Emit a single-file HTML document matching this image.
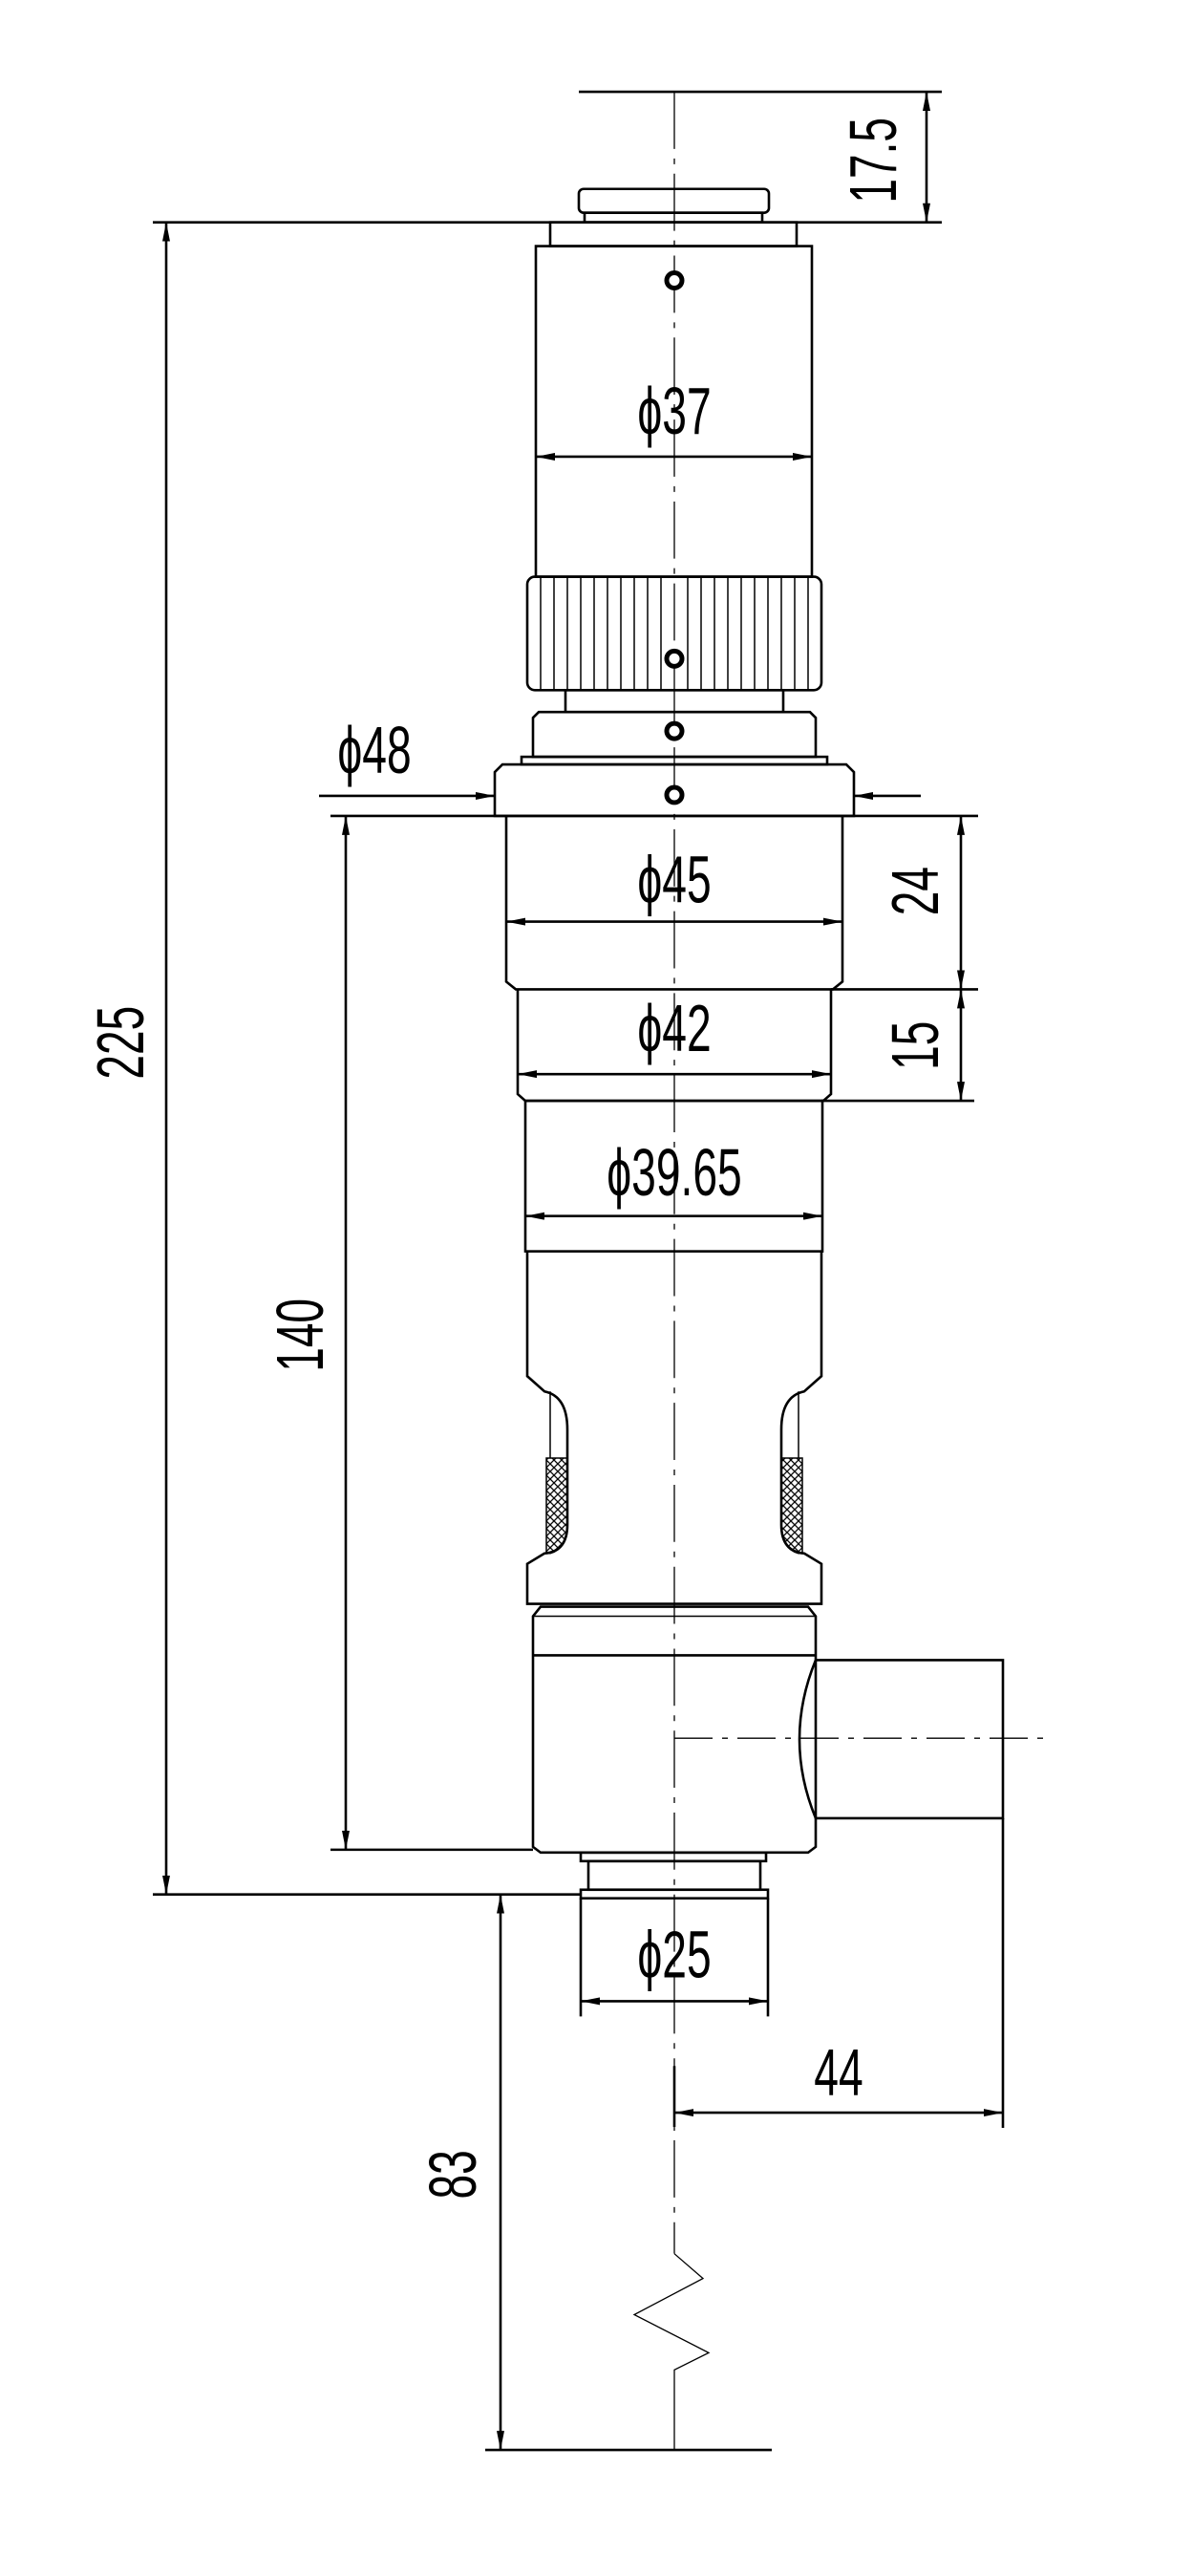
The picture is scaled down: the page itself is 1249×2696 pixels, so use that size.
<!DOCTYPE html>
<html><head><meta charset="utf-8"><style>
html,body{margin:0;padding:0;background:#fff;}
svg{display:block;}
text{font-family:"Liberation Sans",sans-serif;font-size:70px;fill:#000;}
</style></head><body>
<svg width="1249" height="2696" viewBox="0 0 1249 2696" xmlns="http://www.w3.org/2000/svg">
<defs>
<marker id="a" viewBox="0 0 20 8" refX="20" refY="4" markerWidth="20" markerHeight="8" markerUnits="userSpaceOnUse" orient="auto-start-reverse"><path d="M0,0 L20,4 L0,8 z" fill="#000"/></marker>
<pattern id="x" width="8" height="8" patternUnits="userSpaceOnUse"><path d="M0,0 L8,8 M8,0 L0,8" stroke="#000" stroke-width="1.3"/></pattern>
</defs>
<g transform="translate(0,0.3) scale(1,0.9972)">
<g stroke="#000" fill="none" stroke-width="2.6">
<line x1="706" y1="96" x2="706" y2="2365" stroke-width="1.3" stroke-dasharray="60,10,6,10"/>
<polyline points="706,2365 736,2391 664,2429 742,2469 706,2487 706,2571" stroke-width="1.3"/>
<line x1="606" y1="96" x2="986" y2="96"/>
<line x1="160" y1="233" x2="986" y2="233"/>
<line x1="970" y1="96" x2="970" y2="233" marker-start="url(#a)" marker-end="url(#a)"/>
<rect x="606" y="198" width="199" height="25" rx="5"/>
<rect x="612" y="223" width="186" height="10"/>
<rect x="576" y="233" width="258" height="25"/>
<rect x="561" y="258" width="289" height="347"/>
<line x1="561" y1="479" x2="850" y2="479" marker-start="url(#a)" marker-end="url(#a)"/>
<rect x="552" y="605" width="308" height="119" rx="8"/>
<path d="M566,605V724M580,605V724M594,605V724M608,605V724M622,605V724M636,605V724M650,605V724M664,605V724M678,605V724M692,605V724M720,605V724M734,605V724M748,605V724M762,605V724M776,605V724M790,605V724M804,605V724M818,605V724M832,605V724M846,605V724" stroke-width="1.5"/>
<rect x="592" y="724" width="228" height="23"/>
<path d="M558,794 V753 L564,747 H848 L854,753 V794 Z"/>
<rect x="546" y="794" width="320" height="8"/>
<path d="M518,856 V810 L526,802 H886 L894,810 V856 Z"/>
<line x1="334" y1="835" x2="518" y2="835" marker-end="url(#a)"/>
<line x1="964" y1="835" x2="894" y2="835" marker-end="url(#a)"/>
<line x1="346" y1="856" x2="1024" y2="856"/>
<path d="M530,856 V1030 L540,1038 H872 L882,1030 V856"/>
<line x1="530" y1="967" x2="882" y2="967" marker-start="url(#a)" marker-end="url(#a)"/>
<line x1="870" y1="1038" x2="1024" y2="1038"/>
<line x1="1006" y1="856" x2="1006" y2="1038" marker-start="url(#a)" marker-end="url(#a)"/>
<path d="M542,1038 V1148 L550,1155 H862 L870,1148 V1038"/>
<line x1="542" y1="1127" x2="870" y2="1127" marker-start="url(#a)" marker-end="url(#a)"/>
<line x1="860" y1="1155" x2="1020" y2="1155"/>
<line x1="1006" y1="1038" x2="1006" y2="1155" marker-start="url(#a)" marker-end="url(#a)"/>
<rect x="550" y="1155" width="311" height="158"/>
<line x1="550" y1="1276" x2="861" y2="1276" marker-start="url(#a)" marker-end="url(#a)"/>
<path d="M552,1313 V1444 L570,1460 Q594,1465 594,1500 V1600 Q594,1628 570,1630 L552,1641 V1683 H860 V1641 L842,1630 Q818,1628 818,1600 V1500 Q818,1465 842,1460 L860,1444 V1313"/>
<line x1="576" y1="1460" x2="576" y2="1530" stroke-width="1.5"/>
<line x1="836" y1="1460" x2="836" y2="1530" stroke-width="1.5"/>
<path d="M572,1530 H594 V1600 Q594,1625 576,1630 L572,1630 Z" fill="url(#x)" stroke-width="1.5"/>
<path d="M840,1530 H818 V1600 Q818,1625 836,1630 L840,1630 Z" fill="url(#x)" stroke-width="1.5"/>
<path d="M558,1938 V1696 L566,1686 H846 L854,1696 V1938 L846,1944 H566 Z"/>
<line x1="558" y1="1696" x2="854" y2="1696" stroke-width="1.5"/>
<line x1="558" y1="1737" x2="854" y2="1737"/>
<path d="M854,1742 H1050 V1908 H854 Q820,1825 854,1742"/>
<line x1="706" y1="1824" x2="1094" y2="1824" stroke-width="1.3" stroke-dasharray="40,10,6,10"/>
<line x1="1050" y1="1908" x2="1050" y2="2233"/>
<line x1="706" y1="2168" x2="706" y2="2232"/>
<line x1="706" y1="2217" x2="1050" y2="2217" marker-start="url(#a)" marker-end="url(#a)"/>
<rect x="608" y="1944" width="194" height="9"/>
<rect x="616" y="1953" width="180" height="30"/>
<rect x="608" y="1983" width="196" height="9"/>
<line x1="346" y1="1941" x2="558" y2="1941"/>
<line x1="160" y1="1988" x2="608" y2="1988"/>
<line x1="608" y1="1992" x2="608" y2="2116"/>
<line x1="804" y1="1992" x2="804" y2="2116"/>
<line x1="608" y1="2100" x2="804" y2="2100" marker-start="url(#a)" marker-end="url(#a)"/>
<line x1="508" y1="2571" x2="808" y2="2571"/>
<line x1="174" y1="233" x2="174" y2="1988" marker-start="url(#a)" marker-end="url(#a)"/>
<line x1="362" y1="856" x2="362" y2="1941" marker-start="url(#a)" marker-end="url(#a)"/>
<line x1="524" y1="1988" x2="524" y2="2571" marker-start="url(#a)" marker-end="url(#a)"/>
</g>
<g fill="#fff" stroke="#000" stroke-width="5">
<circle cx="706" cy="294" r="8"/><circle cx="706" cy="691" r="8"/><circle cx="706" cy="767" r="8"/><circle cx="706" cy="834" r="8"/>
</g>
<g text-anchor="middle">
<text transform="translate(706,455) scale(0.66,1)">ϕ37</text>
<text transform="translate(392,811) scale(0.66,1)">ϕ48</text>
<text transform="translate(706,947) scale(0.66,1)">ϕ45</text>
<text transform="translate(706,1103) scale(0.66,1)">ϕ42</text>
<text transform="translate(706,1254) scale(0.66,1)">ϕ39.65</text>
<text transform="translate(706,2075) scale(0.66,1)">ϕ25</text>
<text transform="translate(878,2199) scale(0.66,1)">44</text>
<text transform="translate(938,168) rotate(-90) scale(0.66,1)">17.5</text>
<text transform="translate(982,935) rotate(-90) scale(0.66,1)">24</text>
<text transform="translate(982,1097) rotate(-90) scale(0.66,1)">15</text>
<text transform="translate(150,1094) rotate(-90) scale(0.66,1)">225</text>
<text transform="translate(338,1401) rotate(-90) scale(0.66,1)">140</text>
<text transform="translate(498,2282) rotate(-90) scale(0.66,1)">83</text>
</g>
</g>
</svg>
</body></html>
